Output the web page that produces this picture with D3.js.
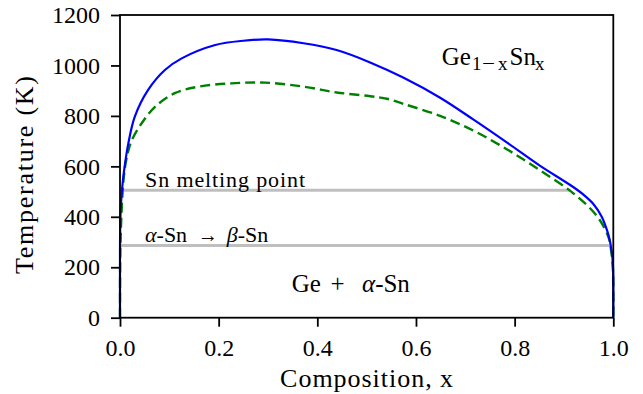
<!DOCTYPE html>
<html>
<head>
<meta charset="utf-8">
<script src="https://cdn.jsdelivr.net/npm/d3@7"></script>
</head>
<body style="margin:0">
<svg id="chart" width="643" height="394"></svg>
<script>
// ---- data ----
const binodalX = [0, 0.00001, 0.0001, 0.0005, 0.001, 0.002, 0.0035, 0.005, 0.009, 0.017, 0.030, 0.057, 0.091, 0.125, 0.193, 0.250, 0.300, 0.372, 0.439, 0.507, 0.574, 0.649, 0.716, 0.784, 0.851, 0.915, 0.940, 0.960, 0.976, 0.988, 0.993, 0.996, 0.998, 0.999, 0.9999, 0.99999, 1.0];
const binodalT = [0, 243, 303, 368, 405, 450, 494, 527, 594, 692, 797, 903, 982, 1028, 1081, 1098, 1103, 1088, 1061, 1012, 952, 872, 786, 695, 603, 523, 487, 450, 402, 342, 305, 272, 242, 218, 162, 130, 0];

const spinodalX = [0, 0.0003, 0.001, 0.003, 0.006, 0.010, 0.016, 0.024, 0.044, 0.071, 0.111, 0.159, 0.226, 0.294, 0.372, 0.439, 0.507, 0.541, 0.574, 0.649, 0.716, 0.784, 0.851, 0.919, 0.966, 0.990, 0.996, 0.999, 0.9999, 1.0];
const spinodalT = [0, 200, 300, 410, 520, 595, 655, 704, 771, 836, 890, 916, 929, 932, 916, 893, 878, 868, 848, 800, 742, 668, 585, 493, 405, 321, 260, 200, 120, 0];

const refLineT = [505, 286];            // Sn melting point, alpha->beta transition
const refLineX0 = [0.006, 0.002];
const refLineX1 = [0.913, 0.993];

const xTicks = [0.0, 0.2, 0.4, 0.6, 0.8, 1.0];
const yTicks = [0, 200, 400, 600, 800, 1000, 1200];

// ---- layout ----
const FONT = '"Liberation Serif", monospace';
const svg = d3.select("#chart");
const L = 120, R = 613.3, T = 15, B = 317.7;
const x = d3.scaleLinear().domain([0, 1]).range([L, R]);
const y = d3.scaleLinear().domain([0, 1200]).range([B, T]);

svg.append("rect").attr("width", 643).attr("height", 394).attr("fill", "#fff");

// reference lines (under curves)
const refs = refLineT.map((t, i) => ({ t, x0: refLineX0[i], x1: refLineX1[i] }));
svg.selectAll("line.ref").data(refs).enter().append("line")
  .attr("class", "ref")
  .attr("x1", d => x(d.x0)).attr("x2", d => x(d.x1))
  .attr("y1", d => y(d.t)).attr("y2", d => y(d.t))
  .attr("stroke", "#bfbfbf").attr("stroke-width", 3);

const line = d3.line().x(d => x(d[0])).y(d => y(d[1])).curve(d3.curveCatmullRom.alpha(0.5));

svg.append("path")
  .datum(spinodalX.map((v, i) => [v, spinodalT[i]]))
  .attr("d", line).attr("fill", "none")
  .attr("stroke", "#008000").attr("stroke-width", 2.4)
  .attr("stroke-dasharray", "10,5");

svg.append("path")
  .datum(binodalX.map((v, i) => [v, binodalT[i]]))
  .attr("d", line).attr("fill", "none")
  .attr("stroke", "#0000ff").attr("stroke-width", 2.2);

// frame
svg.append("rect").attr("x", L).attr("y", T).attr("width", R - L).attr("height", B - T)
  .attr("fill", "none").attr("stroke", "#000").attr("stroke-width", 1.8);

// axes
const xAxis = d3.axisBottom(x).tickValues(xTicks).tickFormat(d3.format(".1f")).tickSize(9).tickPadding(12);
const gx = svg.append("g").attr("transform", `translate(0,${B})`).call(xAxis);
const yAxis = d3.axisLeft(y).tickValues(yTicks).tickFormat(d3.format("d")).tickSize(9).tickPadding(11);
const gy = svg.append("g").attr("transform", `translate(${L},0)`).call(yAxis);
[gx, gy].forEach(g => {
  g.attr("font-family", FONT);
  g.select(".domain").remove();
  g.selectAll(".tick line").attr("stroke", "#000").attr("stroke-width", 1.8);
  g.selectAll(".tick text").attr("font-size", 24).attr("fill", "#000");
});

// axis labels
svg.append("text").attr("x", 366.6).attr("y", 386.5).attr("text-anchor", "middle")
  .attr("font-size", 26).attr("textLength", 173).attr("lengthAdjust", "spacing")
  .text("Composition, x");
svg.append("text").attr("transform", "translate(33,175) rotate(-90)").attr("text-anchor", "middle")
  .attr("font-size", 26).attr("textLength", 198).attr("lengthAdjust", "spacing")
  .text("Temperature (K)");

// annotations
svg.append("text").attr("x", 145).attr("y", 187.3).attr("font-size", 22)
  .attr("textLength", 160).attr("lengthAdjust", "spacing").text("Sn melting point");

const ab = svg.append("text").attr("y", 241.7).attr("font-size", 22);
ab.append("tspan").attr("x", 145).attr("font-style", "italic").text("α");
ab.append("tspan").text("-Sn");
ab.append("tspan").attr("x", 198).attr("textLength", 20).attr("lengthAdjust", "spacingAndGlyphs").text("→");
ab.append("tspan").attr("x", 226.7).attr("font-style", "italic").text("β");
ab.append("tspan").text("-Sn");

const ge = svg.append("text").attr("y", 291.7).attr("font-size", 25);
ge.append("tspan").attr("x", 291.7).text("Ge");
ge.append("tspan").attr("x", 330.5).text("+");
ge.append("tspan").attr("x", 362).attr("font-style", "italic").text("α");
ge.append("tspan").text("-Sn");

const gs = svg.append("text").attr("y", 65).attr("font-size", 25);
gs.append("tspan").attr("x", 441.7).text("Ge");
gs.append("tspan").attr("x", 472).attr("font-size", 19).attr("dy", 5).text("1");
gs.append("tspan").attr("x", 482).attr("font-size", 19).attr("textLength", 13).attr("lengthAdjust", "spacingAndGlyphs").text("−");
gs.append("tspan").attr("x", 498).attr("font-size", 19).text("x");
gs.append("tspan").attr("x", 509.5).attr("dy", -5).text("Sn");
gs.append("tspan").attr("x", 535).attr("font-size", 19).attr("dy", 5).text("x");

svg.selectAll("text").attr("font-family", FONT).attr("fill", "#000");
</script>
</body>
</html>
